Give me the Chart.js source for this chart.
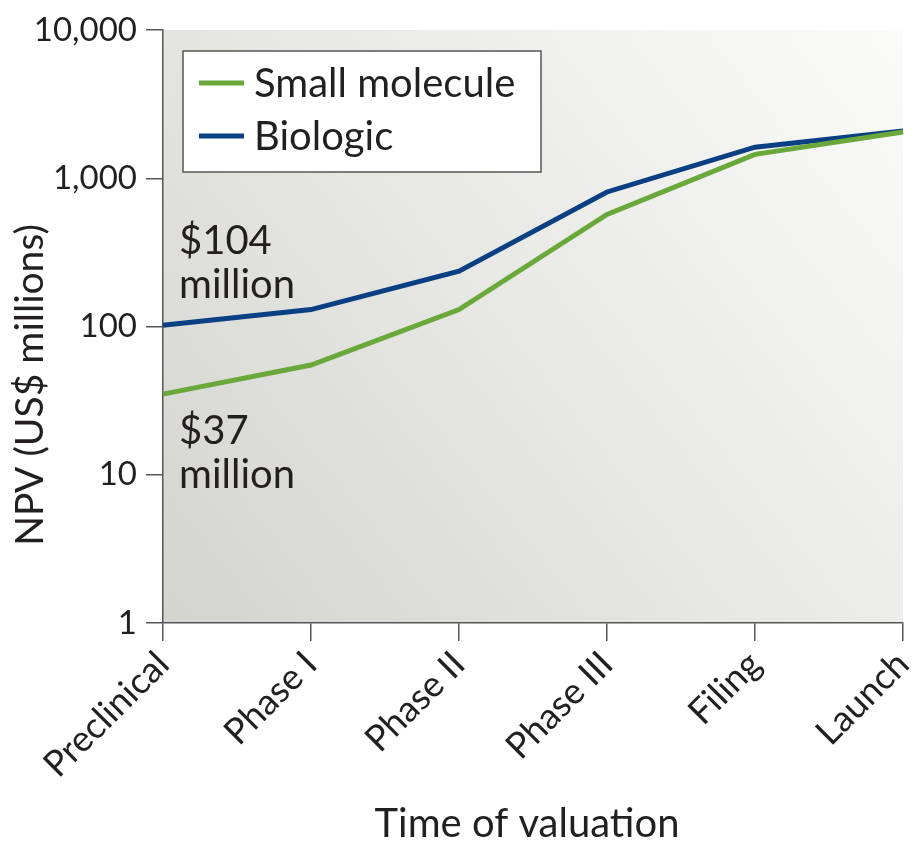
<!DOCTYPE html>
<html>
<head>
<meta charset="utf-8">
<script src="https://cdn.jsdelivr.net/npm/chart.js@4/dist/chart.umd.min.js"></script>
<style>
  html, body { margin: 0; padding: 0; background: #ffffff; }
  #wrap { width: 917px; height: 844px; position: relative; }
</style>
</head>
<body>
<div id="wrap"><canvas id="c" width="917" height="844"></canvas></div>
<script>
const categories = ['Preclinical', 'Phase I', 'Phase II', 'Phase III', 'Filing', 'Launch'];
const smallMolecule = [35, 55, 130, 570, 1450, 2050];
const biologic = [102, 130, 236, 808, 1620, 2080];
const yTicks = [1, 10, 100, 1000, 10000];
const seriesNames = ['Small molecule', 'Biologic'];
const annotations = [['$104', 'million'], ['$37', 'million']];
const xTitle = 'Time of valuation';
const yTitle = 'NPV (US$ millions)';

const FONT = 'Lato, "Open Sans", sans-serif';
const TEXT = '#231f20';
const AXIS = '#555555';

const bgPlugin = {
  id: 'bg',
  beforeDraw(chart) {
    const { ctx, chartArea: a } = chart;
    ctx.save();
    const g = ctx.createLinearGradient(a.left, a.bottom, a.right, a.top);
    g.addColorStop(0, '#d3d4ce');
    g.addColorStop(0.45, '#e6e7e3');
    g.addColorStop(1, '#fbfbfa');
    ctx.fillStyle = g;
    ctx.fillRect(a.left, a.top, a.right - a.left, a.bottom - a.top);
    ctx.restore();
  }
};

const decorPlugin = {
  id: 'decor',
  afterDraw(chart) {
    const { ctx } = chart;
    ctx.save();
    // legend box
    ctx.fillStyle = '#ffffff';
    ctx.fillRect(183, 51, 358, 121);
    ctx.strokeStyle = '#555555';
    ctx.lineWidth = 1.5;
    ctx.strokeRect(183, 51, 358, 121);
    const rows = [83, 136];
    chart.data.datasets.forEach((ds, i) => {
      ctx.strokeStyle = ds.borderColor;
      ctx.lineWidth = 5;
      ctx.beginPath();
      ctx.moveTo(199, rows[i]);
      ctx.lineTo(244, rows[i]);
      ctx.stroke();
      ctx.fillStyle = TEXT;
      ctx.font = '40px ' + FONT;
      ctx.textBaseline = 'middle';
      ctx.textAlign = 'left';
      ctx.fillText(ds.label, 254, rows[i] + 1);
    });
    // annotations
    ctx.font = '40px ' + FONT;
    ctx.fillStyle = TEXT;
    ctx.textBaseline = 'middle';
    ctx.fillText(annotations[0][0], 179, 241);
    ctx.fillText(annotations[0][1], 179, 285);
    ctx.fillText(annotations[1][0], 179, 431);
    ctx.fillText(annotations[1][1], 179, 475);
    // axis titles
    ctx.textAlign = 'center';
    ctx.font = '40px ' + FONT;
    ctx.fillText(xTitle, 527, 824);
    ctx.font = '39px ' + FONT;
    ctx.translate(30, 385);
    ctx.rotate(-Math.PI / 2);
    ctx.fillText(yTitle, 0, 0);
    ctx.restore();
  }
};

new Chart(document.getElementById('c'), {
  type: 'line',
  data: {
    labels: categories,
    datasets: [
      { label: seriesNames[0], data: smallMolecule, borderColor: '#6aa83c', backgroundColor: '#6aa83c',
        borderWidth: 5, pointRadius: 0, tension: 0, fill: false },
      { label: seriesNames[1], data: biologic, borderColor: '#0b3f84', backgroundColor: '#0b3f84',
        borderWidth: 5, pointRadius: 0, tension: 0, fill: false }
    ]
  },
  options: {
    responsive: false,
    animation: false,
    layout: { padding: { top: 30, right: 14, left: 0, bottom: 0 } },
    plugins: { legend: { display: false }, tooltip: { enabled: false }, title: { display: false } },
    scales: {
      x: {
        type: 'category',
        offset: false,
        grid: { display: true, drawOnChartArea: false, drawTicks: true, tickLength: 18, color: AXIS, lineWidth: 1.5 },
        border: { display: true, color: AXIS, width: 1.5 },
        ticks: { color: TEXT, font: { family: FONT, size: 36 }, maxRotation: 45, minRotation: 45, padding: 2, autoSkip: false },
        afterFit(scale) { scale.height = 221; scale.paddingRight = 0; scale.paddingLeft = 0; }
      },
      y: {
        type: 'logarithmic',
        min: 1,
        max: 10000,
        afterBuildTicks(scale) { scale.ticks = yTicks.map(v => ({ value: v })); },
        grid: { display: true, drawOnChartArea: false, drawTicks: true, tickLength: 17, color: AXIS, lineWidth: 1.5 },
        border: { display: true, color: AXIS, width: 1.5 },
        ticks: {
          color: TEXT, font: { family: FONT, size: 33 }, padding: 9,
          callback: (v) => Number(v).toLocaleString('en-US')
        },
        afterFit(scale) { scale.width = 163; scale.paddingTop = 0; scale.paddingBottom = 0; }
      }
    }
  },
  plugins: [bgPlugin, decorPlugin]
});
</script>
</body>
</html>
